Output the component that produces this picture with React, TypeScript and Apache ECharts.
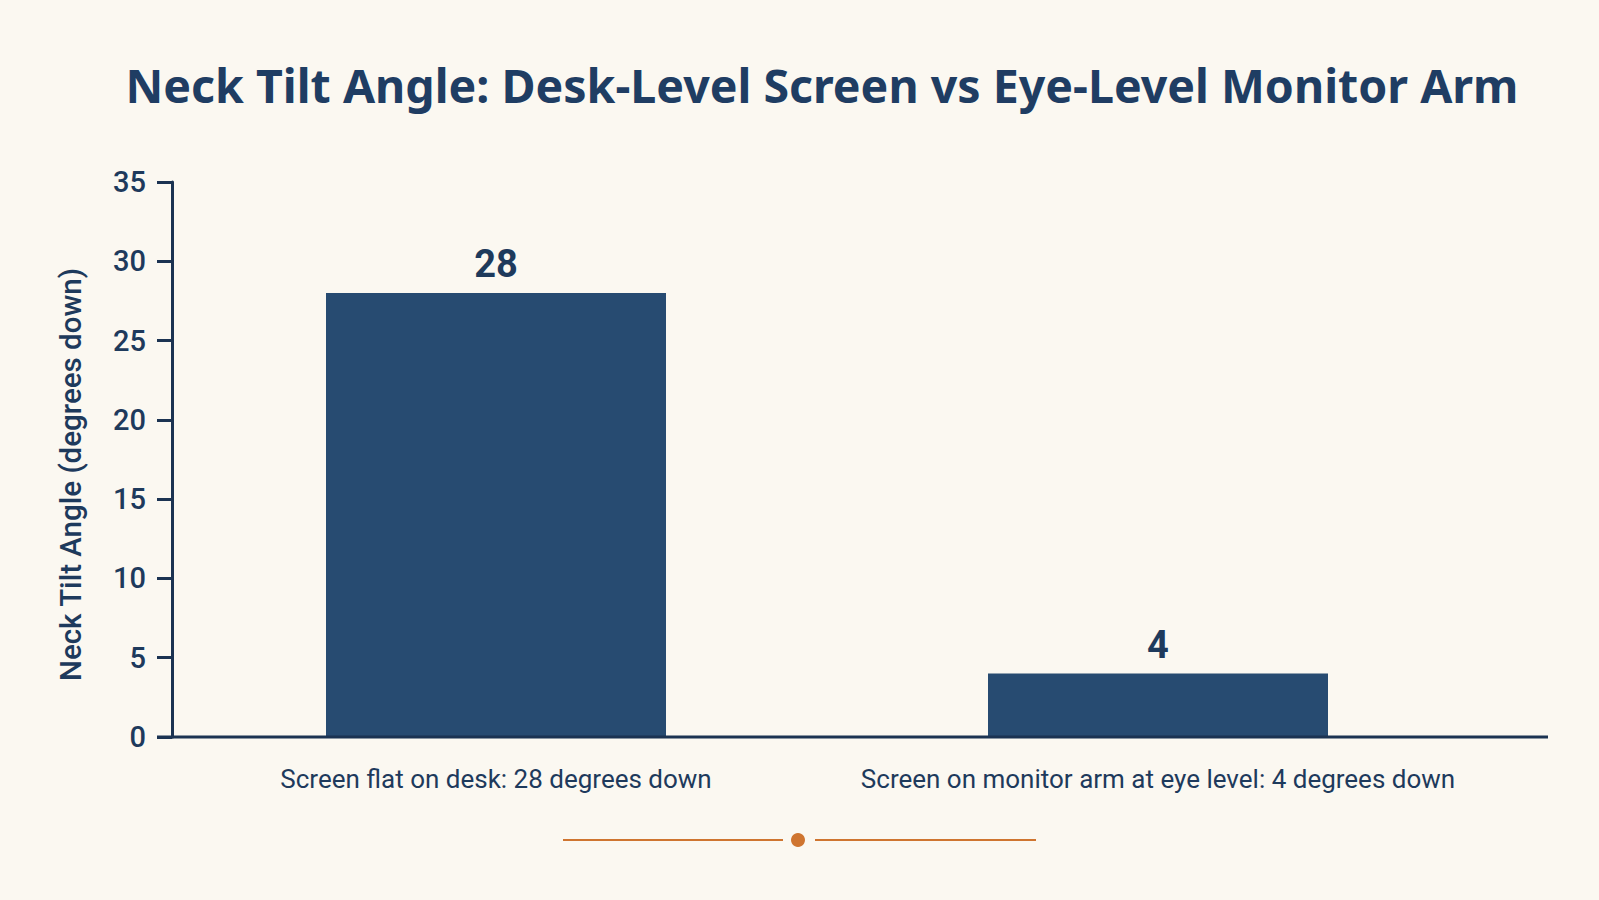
import { useRef, useEffect } from "react";
import * as echarts from "echarts";

const categories = [
  "Screen flat on desk: 28 degrees down",
  "Screen on monitor arm at eye level: 4 degrees down",
];
const tiltValues = [28, 4];
const yTicks = [0, 5, 10, 15, 20, 25, 30, 35];

const NAVY = "#1e3a5c";
const BAR = "#274b71";
const ORANGE = "#cf7530";
const BG = "#fbf8f1";

export default function App() {
  const chartRef = useRef<HTMLDivElement>(null);

  useEffect(() => {
    if (!chartRef.current) return;
    document.body.style.backgroundColor = BG;
    const chart = echarts.init(chartRef.current, undefined, { renderer: "svg" });

    const option: echarts.EChartsOption = {
      animation: false,
      backgroundColor: BG,
      title: {
        text: "Neck Tilt Angle: Desk-Level Screen vs Eye-Level Monitor Arm",
        left: 809,
        top: 48,
        textAlign: "center",
        textStyle: {
          fontFamily: "Noto Sans",
          fontWeight: 700,
          fontSize: 46.5,
          color: "#1f3d63",
        },
      },
      grid: {
        left: 157,
        top: 174,
        width: 1324,
        height: 555,
        containLabel: false,
      },
      xAxis: {
        type: "category",
        data: categories,
        axisLine: { show: false },
        axisTick: { show: false },
        axisLabel: {
          interval: 0,
          margin: 29,
          fontFamily: "Roboto",
          fontSize: 26,
          color: NAVY,
        },
      },
      yAxis: {
        type: "value",
        min: yTicks[0],
        max: yTicks[yTicks.length - 1],
        interval: 5,
        offset: -7,
        name: "Neck Tilt Angle (degrees down)",
        nameLocation: "middle",
        nameGap: 86,
        nameTextStyle: {
          fontFamily: "Roboto",
          fontWeight: 500,
          fontSize: 29.5,
          color: NAVY,
          padding: [0, 30, 0, 0],
        },
        splitLine: { show: false },
        axisLine: { show: true, lineStyle: { color: "#1b3352", width: 3 } },
        axisTick: { show: true, length: 15, lineStyle: { color: "#1b3352", width: 3 } },
        axisLabel: {
          margin: 26,
          fontFamily: "Roboto",
          fontWeight: 500,
          fontSize: 29,
          color: NAVY,
        },
      },
      series: [
        {
          type: "bar",
          data: tiltValues,
          barWidth: 340,
          itemStyle: { color: BAR },
          label: {
            show: true,
            position: "top",
            distance: 10,
            fontFamily: "Roboto",
            fontWeight: 700,
            fontSize: 38,
            color: NAVY,
          },
        },
      ],
      graphic: [
        {
          type: "line",
          shape: { x1: 149, y1: 729, x2: 1540, y2: 729 },
          style: { stroke: "#1b3352", lineWidth: 3 },
          z: 10,
        },
        {
          type: "line",
          shape: { x1: 555, y1: 832, x2: 775, y2: 832 },
          style: { stroke: ORANGE, lineWidth: 2 },
        },
        {
          type: "line",
          shape: { x1: 807, y1: 832, x2: 1028, y2: 832 },
          style: { stroke: ORANGE, lineWidth: 2 },
        },
        {
          type: "circle",
          shape: { cx: 790, cy: 832, r: 7 },
          style: { fill: ORANGE },
        },
      ],
    };

    chart.setOption(option);
    const handleResize = () => chart.resize();
    window.addEventListener("resize", handleResize);
    return () => {
      window.removeEventListener("resize", handleResize);
      chart.dispose();
    };
  }, []);

  return <div ref={chartRef} style={{ width: "100%", height: "884px" }} />;
}
